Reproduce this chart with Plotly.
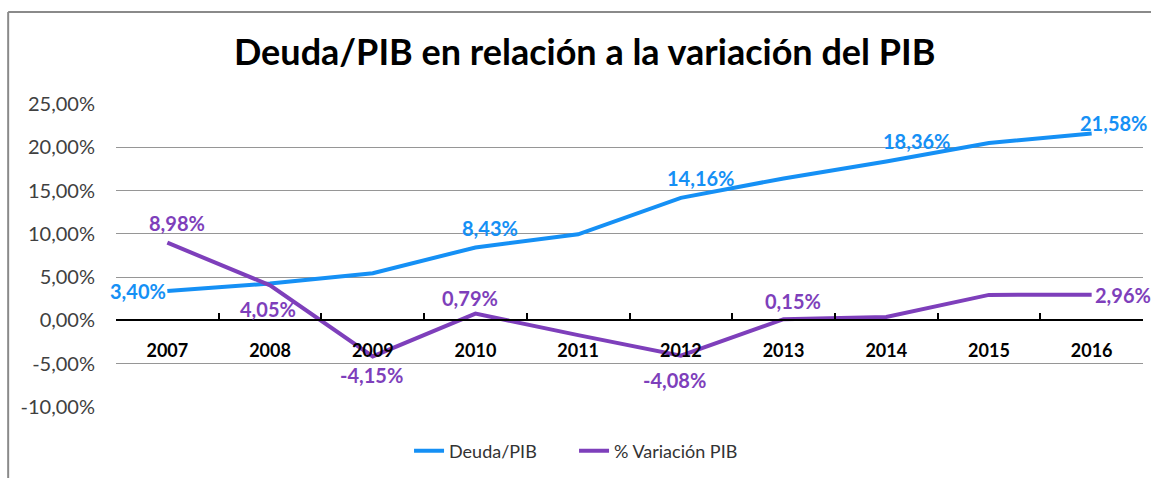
import plotly.graph_objects as go

years = ['2007', '2008', '2009', '2010', '2011', '2012', '2013', '2014', '2015', '2016']
deuda_pib = [3.40, 4.27, 5.46, 8.43, 9.95, 14.16, 16.40, 18.36, 20.50, 21.58]
variacion_pib = [8.98, 4.05, -4.15, 0.79, -1.70, -4.08, 0.15, 0.40, 2.95, 2.96]
y_ticks = [-10, -5, 0, 5, 10, 15, 20, 25]

# which points carry a data label, and the label's pixel offset (dx, dy) from its point
deuda_label_shift = {0: (-29, 0), 3: (15, 19), 5: (20, 20), 7: (30, 20), 9: (22, 11)}
var_label_shift = {0: (10, 20), 1: (-2, -24), 2: (-1, -19), 3: (-5, 16),
                   5: (-6, -24), 6: (9, 18), 9: (31, 0)}

BLUE = '#1590f5'
PURPLE = '#7e3fbb'
FONT = 'Lato'


def fmt(v, dec=2):
    return f"{v:.{dec}f}%".replace('.', ',')


fig = go.Figure()
fig.add_trace(go.Scatter(
    x=years, y=deuda_pib, name='Deuda/PIB', mode='lines',
    line=dict(color=BLUE, width=4), hoverinfo='skip',
))
fig.add_trace(go.Scatter(
    x=years, y=variacion_pib, name='% Variación PIB', mode='lines',
    line=dict(color=PURPLE, width=4), hoverinfo='skip',
))

annotations = []
for vals, shifts, color in ((deuda_pib, deuda_label_shift, BLUE),
                            (variacion_pib, var_label_shift, PURPLE)):
    for i, (dx, dy) in shifts.items():
        annotations.append(dict(
            x=i, y=vals[i], xref='x', yref='y', text=fmt(vals[i]),
            showarrow=False, xshift=dx, yshift=dy, xanchor='center', yanchor='middle',
            font=dict(family=FONT, size=20, color=color, weight='bold'),
        ))

y_min, y_max = y_ticks[0], y_ticks[-1]
dom_bottom, dom_top = 0.0, 1.0
zero_pos = dom_bottom + (0 - y_min) / (y_max - y_min) * (dom_top - dom_bottom)

fig.update_layout(
    width=1151, height=478,
    margin=dict(l=116, r=8, t=104, b=71),
    paper_bgcolor='white', plot_bgcolor='white',
    separators=',.',
    title=dict(text='<b>Deuda/PIB en relación a la variación del PIB</b>',
               x=0.508, xanchor='center', y=0.89, yanchor='middle',
               font=dict(family=FONT, size=36, color='black')),
    xaxis=dict(type='category', anchor='free', position=zero_pos,
               range=[-0.5, len(years) - 0.5], autorange=False,
               showline=True, linecolor='black', linewidth=2,
               ticks='inside', tickson='boundaries', ticklen=6, tickcolor='black', tickwidth=2,
               showgrid=False, zeroline=False,
               ticklabelstandoff=14,
               tickfont=dict(family=FONT, size=18, color='black', weight='bold')),
    yaxis=dict(range=[y_min, y_max], tickvals=y_ticks, ticktext=[fmt(v) for v in y_ticks],
               showgrid=True, gridcolor='#969696', gridwidth=1,
               zeroline=False, showline=False, ticks='', ticklabelstandoff=20,
               tickfont=dict(family=FONT, size=20, color='#404040'),
               domain=[dom_bottom, dom_top]),
    legend=dict(orientation='h', x=0.446, xanchor='center', y=-0.145, yanchor='middle',
                font=dict(family=FONT, size=18, color='#333333'),
                entrywidth=120, tracegroupgap=0),
    showlegend=True,
    annotations=annotations,
    shapes=[
        dict(type='line', xref='paper', yref='paper', x0=-0.105, x1=1.02, y0=1.3036, y1=1.3036,
             line=dict(color='#8a8a8a', width=2)),
        dict(type='line', xref='paper', yref='paper', x0=-0.105, x1=-0.105, y0=1.3036, y1=-0.24,
             line=dict(color='#8a8a8a', width=2)),
    ],
)

fig.write_html('out.html', post_script="document.body.style.margin='0';",
               config={'displayModeBar': False})
